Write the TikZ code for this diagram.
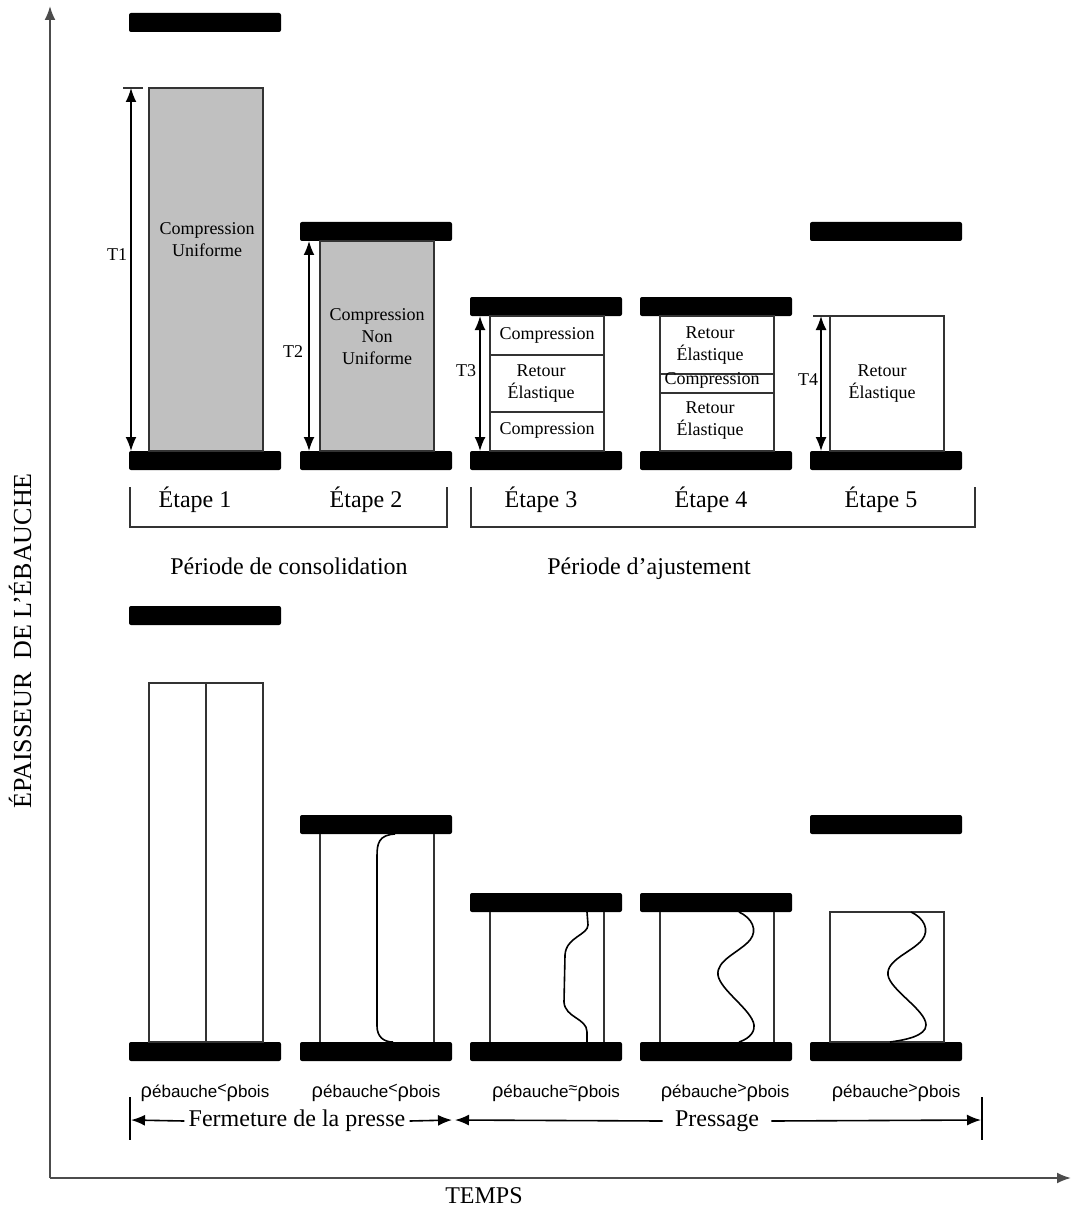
\documentclass[tikz,border=0pt]{standalone}
\usepackage{fontspec}
\setmainfont{Liberation Serif}
\newfontfamily\sansdens{Liberation Sans}
\usetikzlibrary{arrows.meta}
\definecolor{grisbloc}{RGB}{192,192,192}
\newcommand{\densrel}[1]{{\sansdens\fontsize{10}{12}\selectfont ρ\fontsize{8.5}{9}\selectfont ébauche\raisebox{2pt}{\fontsize{8}{9}\selectfont #1}\fontsize{10}{12}\selectfont ρ\fontsize{8.5}{9}\selectfont bois}}
\tikzset{
	plaque/.style={fill=black,rounded corners=1pt},
	panneau/.style={draw=black!80,line width=0.8pt},
	courbe/.style={draw=black,line width=0.8pt},
	etiq/.style={align=center,font=\fontsize{9}{11}\selectfont,inner sep=0pt},
	cote/.style={line width=0.8pt,<->},
	titre/.style={font=\fontsize{12}{14}\selectfont,text height=1.6ex,text depth=0.3ex},
	axe/.style={draw=black!70,line width=1pt,->}
}
\begin{document}
\begin{tikzpicture}[x=0.5pt,y=-0.5pt,>={Latex[length=7pt,width=5.5pt]}]
	\useasboundingbox (0,0) rectangle (1072,1209);
	% axes
	\draw[axe] (50,1178) -- (50,6);
	\draw[axe] (50,1178) -- (1071,1178);
	\node[rotate=90,font=\fontsize{13}{15}\selectfont] (ordonnee) at (20,641) {ÉPAISSEUR\ \ DE L’ÉBAUCHE};
	\node[font=\fontsize{12}{14}\selectfont] (abscisse) at (484,1196) {TEMPS};
	% plaques du haut et du bas
	\foreach \Xc/\Yh/\Yb in 
	{129/13/606,300/222/815,470/297/893,640/297/893,810/222/815}
	{
		\fill[plaque] (\Xc,\Yh) rectangle ++(152,19);
		\fill[plaque] (\Xc,451) rectangle ++(152,19);
		\fill[plaque] (\Xc,\Yb) rectangle ++(152,19);
		\fill[plaque] (\Xc,1042) rectangle ++(152,19);
	}
	% panneaux, rangee du haut
	\filldraw[panneau,fill=grisbloc] (149,88) rectangle (263,451);
	\filldraw[panneau,fill=grisbloc] (320,241) rectangle (434,451);
	\draw[panneau] (490,316) rectangle (604,451);
	\draw[panneau] (490,355) -- (604,355) (490,412) -- (604,412);
	\draw[panneau] (660,316) rectangle (774,451);
	\draw[panneau] (660,374) -- (774,374) (660,393) -- (774,393);
	\draw[panneau] (830,316) rectangle (944,451);
	\draw[panneau] (813,316) -- (830,316);
	\draw[panneau] (123,88) -- (143,88);
	% epaisseurs
	\foreach \Xc/\Yc/\Xt/\Yt/\Texto in 
	{131/88/117/255/T1,309/241/293/352/T2,480/316/466/371/T3,821/316/808/380/T4}
	{
		\draw[cote] (\Xc,\Yc) -- (\Xc,451);
		\node[etiq] (\Texto) at (\Xt,\Yt) {\Texto};
	}
	\node[etiq] (compU) at (207,240) {Compression\\Uniforme};
	\node[etiq] (compNU) at (377,337) {Compression\\Non\\Uniforme};
	\node[etiq] (comp3a) at (547,335) {Compression};
	\node[etiq] (ret3) at (541,384) {Retour\\Élastique};
	\node[etiq] (comp3b) at (547,430) {Compression};
	\node[etiq] (ret4a) at (710,346) {Retour\\Élastique};
	\node[etiq] (comp4) at (712,380) {Compression};
	\node[etiq] (ret4b) at (710,421) {Retour\\Élastique};
	\node[etiq] (ret5) at (882,384) {Retour\\Élastique};
	% etapes et periodes
	\draw[line width=0.8pt,black!80] (130,487) |- (447,527) -- (447,487);
	\draw[line width=0.8pt,black!80] (471,487) |- (975,527) -- (975,487);
	\foreach \Xc/\Texto in 
	{195/1,366/2,541/3,711/4,881/5}
	{
		\node[titre] (etape\Texto) at (\Xc,502) {Étape \Texto};
	}
	\node[titre] (consol) at (289,569) {Période de consolidation};
	\node[titre] (ajust) at (649,569) {Période d’ajustement};
	% panneaux, rangee du bas
	\draw[panneau] (149,683) rectangle (263,1042);
	\draw[panneau] (206,683) -- (206,1042);
	\draw[panneau] (320,834) -- (320,1042) (434,834) -- (434,1042);
	\draw[panneau] (490,912) -- (490,1042) (604,912) -- (604,1042);
	\draw[panneau] (660,912) -- (660,1042) (774,912) -- (774,1042);
	\draw[panneau] (830,912) rectangle (944,1042);
	% profils de densite
	\draw[courbe] (395,834) .. controls (379,835) and (377,843) .. (377,856) -- (377,1026) .. controls (377,1037) and (384,1042) .. (393,1042);
	\draw[courbe] (587,912) -- (588,925) .. controls (588,935) and (566,937) .. (565,955) -- (564,1002) .. controls (565,1018) and (587,1018) .. (587,1032) -- (587,1042);
	\draw[courbe] (739,912) .. controls (752,918) and (758,930) .. (750,940) .. controls (740,952) and (716,960) .. (718,975) .. controls (720,990) and (752,1010) .. (754,1025) .. controls (755,1035) and (745,1040) .. (739,1042);
	\draw[courbe] (911,912) .. controls (924,918) and (930,930) .. (922,940) .. controls (912,952) and (886,960) .. (888,975) .. controls (890,990) and (926,1010) .. (926,1025) .. controls (926,1036) and (905,1040) .. (890,1042);
	\foreach \Xc/\Rel in 
	{205/<,376/<,556/≈,725/>,896/>}
	{
		\node[anchor=base] (dens\Xc) at (\Xc,1097) {\densrel{\Rel}};
	}
	% fermeture et pressage
	\draw[line width=0.8pt] (130,1097) -- (130,1140);
	\draw[line width=0.8pt] (982,1097) -- (982,1140);
	\coordinate (gauche) at (131,1120);
	\coordinate (milieuG) at (452,1120);
	\coordinate (milieuD) at (455,1120);
	\coordinate (droite) at (981,1120);
	\node[titre,inner sep=2pt] (ferm) at (297,1121) {Fermeture de la presse};
	\node[titre,inner sep=6pt] (press) at (717,1121) {Pressage};
	\draw[line width=0.8pt,->] (ferm.west) -- (gauche);
	\draw[line width=0.8pt,->] (ferm.east) -- (milieuG);
	\draw[line width=0.8pt,->] (press.west) -- (milieuD);
	\draw[line width=0.8pt,->] (press.east) -- (droite);
\end{tikzpicture}
\end{document}
